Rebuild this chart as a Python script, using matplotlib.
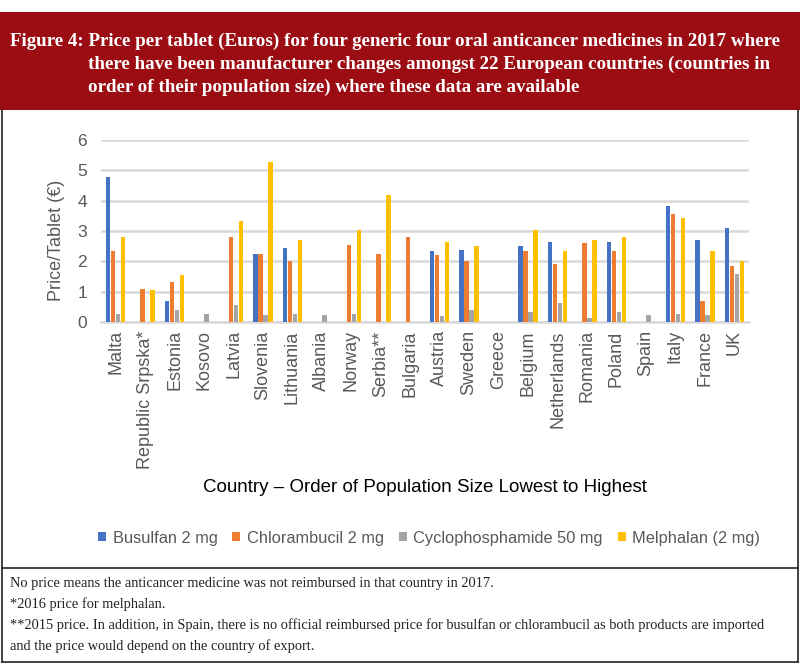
import numpy as np
import matplotlib.pyplot as plt
from matplotlib.patches import Patch, Rectangle
from matplotlib.lines import Line2D

countries = ['Malta', 'Republic Srpska*', 'Estonia', 'Kosovo', 'Latvia', 'Slovenia',
             'Lithuania', 'Albania', 'Norway', 'Serbia**', 'Bulgaria', 'Austria',
             'Sweden', 'Greece', 'Belgium', 'Netherlands', 'Romania', 'Poland',
             'Spain', 'Italy', 'France', 'UK']
busulfan = [4.77, 0, 0.69, 0, 0, 2.24, 2.44, 0, 0, 0, 0, 2.33,
            2.39, 0, 2.49, 2.64, 0, 2.64, 0, 3.84, 2.70, 3.11]
chlorambucil = [2.33, 1.10, 1.31, 0, 2.81, 2.24, 2.02, 0, 2.55, 2.24, 2.81, 2.20,
                2.02, 0, 2.33, 1.92, 2.59, 2.33, 0, 3.57, 0.69, 1.83]
cyclophosphamide = [0.28, 0, 0.38, 0.28, 0.56, 0.23, 0.27, 0.23, 0.27, 0, 0, 0.19,
                    0.38, 0, 0.34, 0.64, 0.12, 0.34, 0.23, 0.28, 0.23, 1.57]
melphalan = [2.81, 1.05, 1.56, 0, 3.33, 5.29, 2.71, 0, 3.02, 4.20, 0, 2.64,
             2.49, 0, 3.02, 2.33, 2.70, 2.81, 0, 3.42, 2.33, 2.02]
series = [('Busulfan 2 mg', busulfan, '#4472C4'),
          ('Chlorambucil 2 mg', chlorambucil, '#ED7D31'),
          ('Cyclophosphamide 50 mg', cyclophosphamide, '#A5A5A5'),
          ('Melphalan (2 mg)', melphalan, '#FFC000')]

W, H = 800, 664
fig = plt.figure(figsize=(8, 6.64), dpi=100, facecolor='w')

# red title banner
fig.patches.append(Rectangle((0, 1 - 110 / H), 1, 98 / H, transform=fig.transFigure,
                             facecolor='#9B0D12', edgecolor='none', zorder=0))
tfont = dict(family='Liberation Serif', weight='bold', color='white', fontsize=13.7)
fig.text(10 / W, 1 - 41 / H, 'Figure 4: Price per tablet (Euros) for four generic four oral anticancer medicines in 2017 where',
         va='center', **tfont)
fig.text(88 / W, 1 - 64 / H, 'there have been manufacturer changes amongst 22 European countries (countries in',
         va='center', **tfont)
fig.text(88 / W, 1 - 87 / H, 'order of their population size) where these data are available',
         va='center', **tfont)

# box borders
fig.lines.append(Line2D([2 / W, 2 / W], [1 - 110 / H, 1 - 662 / H], transform=fig.transFigure, color='#222222', lw=1.2))
fig.lines.append(Line2D([798 / W, 798 / W], [1 - 110 / H, 1 - 662 / H], transform=fig.transFigure, color='#222222', lw=1.2))
fig.lines.append(Line2D([2 / W, 798 / W], [1 - 662 / H, 1 - 662 / H], transform=fig.transFigure, color='#222222', lw=1.2))
fig.lines.append(Line2D([2 / W, 798 / W], [1 - 568 / H, 1 - 568 / H], transform=fig.transFigure, color='#222222', lw=1.2))

# chart
ax = fig.add_axes([101 / W, 1 - 322 / H, 648 / W, 182 / H])
x = np.arange(len(countries))
step = 0.17
bw = 0.15
for i, (name, vals, col) in enumerate(series):
    ax.bar(x + (i - 1.5) * step, vals, width=bw, color=col, label=name, zorder=3)

ax.set_xlim(-0.5, len(countries) - 0.5)
ax.set_ylim(0, 6)
ax.set_yticks(range(7))
ax.grid(axis='y', color='#D9D9D9', lw=1.8, zorder=0)
for s in ['top', 'right', 'left']:
    ax.spines[s].set_visible(False)
ax.spines['bottom'].set_color('#D9D9D9')
ax.spines['bottom'].set_linewidth(1.8)
ax.tick_params(length=0, colors='#595959', labelsize=12.5)
ax.tick_params(axis='y', pad=10)
ax.tick_params(axis='x', pad=6)
ax.set_xticks(x)
ax.set_xticklabels(countries, rotation=90, fontsize=13, family='Liberation Sans')
for t in ax.get_yticklabels():
    t.set_family('Liberation Sans')
ax.set_ylabel('Price/Tablet (€)', fontsize=13, color='#595959', family='Liberation Sans')
ax.yaxis.set_label_coords(-0.055, 0.45)

fig.text(425 / W, 1 - 487 / H, 'Country \u2013 Order of Population Size Lowest to Highest',
         ha='center', va='center', fontsize=13.5, family='Liberation Sans', color='black')

handles = [Patch(facecolor=c, edgecolor='none') for _, _, c in series]
fig.legend(handles, [n for n, _, _ in series], loc='center', bbox_to_anchor=(429 / W, 1 - 538 / H),
           ncol=4, frameon=False, handlelength=0.5, handleheight=0.5, handletextpad=0.4,
           columnspacing=0.9, prop={'family': 'Liberation Sans', 'size': 11.8}, labelcolor='#595959')

# footnotes
nfont = dict(family='Liberation Serif', fontsize=10.4, color='#222222', va='center')
fig.text(10 / W, 1 - 583 / H, 'No price means the anticancer medicine was not reimbursed in that country in 2017.', **nfont)
fig.text(10 / W, 1 - 604 / H, '*2016 price for melphalan.', **nfont)
fig.text(10 / W, 1 - 625 / H, '**2015 price. In addition, in Spain, there is no official reimbursed price for busulfan or chlorambucil as both products are imported', **nfont)
fig.text(10 / W, 1 - 646 / H, 'and the price would depend on the country of export.', **nfont)

fig.savefig('out.png', dpi=100)
